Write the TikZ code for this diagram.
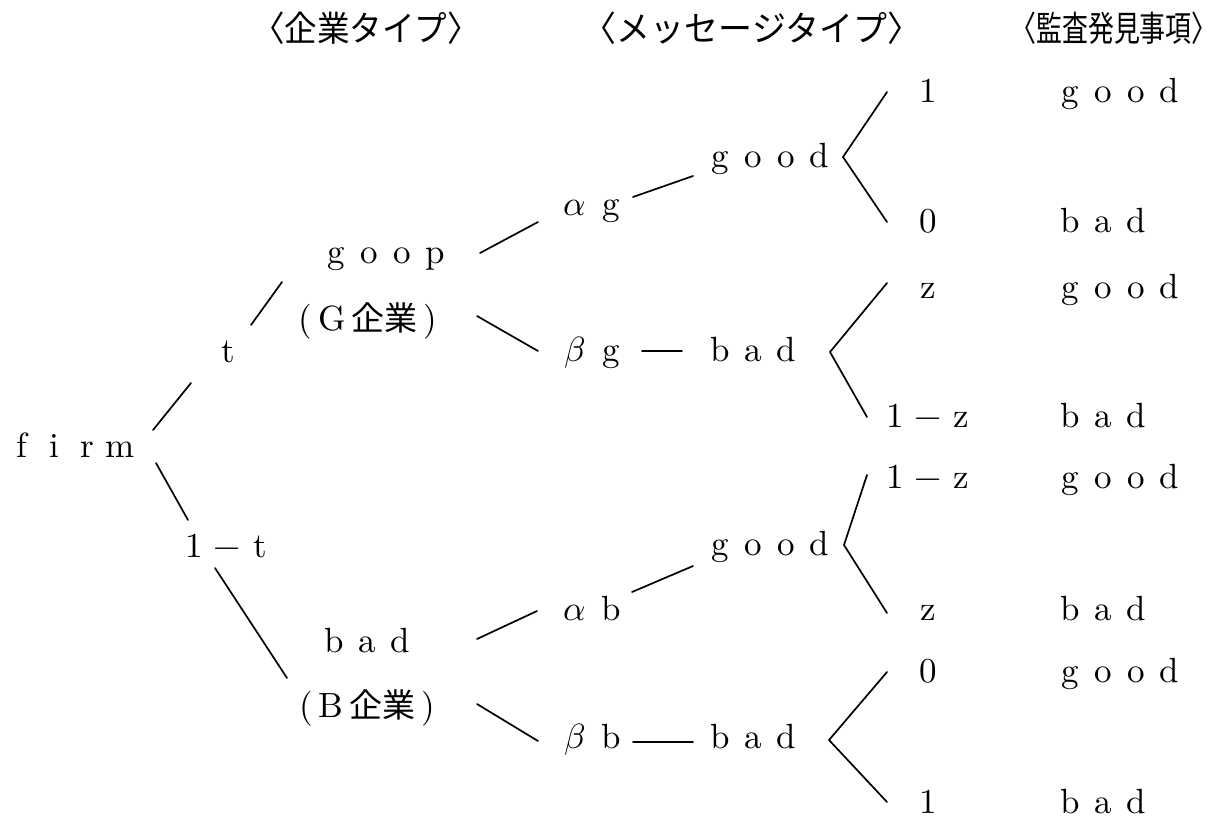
\documentclass[tikz,border=0pt]{standalone}
\usepackage{fontspec}
\usepackage{unicode-math}
\setmathfont{Latin Modern Math}
\setmainfont{lmroman10-regular.otf}
\newfontfamily\cjk{Noto Sans CJK JP}
\newcommand\lt[1]{\makebox[33pt]{#1}}
\newcommand\ltw[1]{\makebox[36pt]{#1}}
\begin{document}
\begin{tikzpicture}[x=1pt,y=-1pt,
  every node/.style={inner sep=0pt, font=\fontsize{35}{40}\selectfont},
  lbl/.style={anchor=base},
  outc/.style={anchor=base west},
  hdr/.style={anchor=center, font=\fontsize{35}{40}\selectfont\cjk},
  ln/.style={line width=1.7pt, line cap=round}]
\useasboundingbox (0,0) rectangle (1222,820);

% headers
\node[hdr] (h1) at (366,28) {\scalebox{0.93}[1]{〈企業タイプ〉}};
\node[hdr] (h2) at (752,28) {\scalebox{0.97}[1]{〈メッセージタイプ〉}};
\node[hdr] (h3) at (1114,28) {\scalebox{0.74}[1]{〈監査発見事項〉}};

% tree nodes
\node[lbl] (firm) at (71,457) {\lt{f}\lt{i}\lt{r}\lt{m}};
\node[lbl] (t) at (228,362) {t};
\node[lbl] (onemt) at (227,557) {\lt{1}\lt{$-$}\lt{t}};
\node[lbl] (goop) at (386,263) {\lt{g}\lt{o}\lt{o}\lt{p}};
\node[lbl] (gfirm) at (368,330) {(\,G\,{\cjk\fontsize{33}{40}\selectfont 企業}\,)};
\node[lbl] (badB) at (367,652) {\lt{b}\lt{a}\lt{d}};
\node[lbl] (bfirm) at (367,717) {(\,B\,{\cjk\fontsize{33}{40}\selectfont 企業}\,)};

\node[lbl] (ag) at (593,215) {\ltw{$\alpha$}\ltw{g}};
\node[lbl] (bg) at (593,361) {\ltw{$\beta$}\ltw{g}};
\node[lbl] (ab) at (593,620) {\ltw{$\alpha$}\ltw{b}};
\node[lbl] (bb) at (593,748) {\ltw{$\beta$}\ltw{b}};

\node[lbl] (good1) at (770,167) {\lt{g}\lt{o}\lt{o}\lt{d}};
\node[lbl] (bad1) at (753,361) {\lt{b}\lt{a}\lt{d}};
\node[lbl] (good2) at (770,555) {\lt{g}\lt{o}\lt{o}\lt{d}};
\node[lbl] (bad2) at (753,748) {\lt{b}\lt{a}\lt{d}};

% probabilities
\node[lbl] (p1) at (928,102) {1};
\node[lbl] (p2) at (928,232) {0};
\node[lbl] (p3) at (928,298) {z};
\node[lbl] (p4) at (928,427) {\lt{1}\lt{$-$}\lt{z}};
\node[lbl] (p5) at (928,488) {\lt{1}\lt{$-$}\lt{z}};
\node[lbl] (p6) at (928,620) {z};
\node[lbl] (p7) at (928,682) {0};
\node[lbl] (p8) at (928,813) {1};

% audit findings
\node[outc] (o1) at (1054,102) {\lt{g}\lt{o}\lt{o}\lt{d}};
\node[outc] (o2) at (1054,232) {\lt{b}\lt{a}\lt{d}};
\node[outc] (o3) at (1054,298) {\lt{g}\lt{o}\lt{o}\lt{d}};
\node[outc] (o4) at (1054,427) {\lt{b}\lt{a}\lt{d}};
\node[outc] (o5) at (1054,488) {\lt{g}\lt{o}\lt{o}\lt{d}};
\node[outc] (o6) at (1054,620) {\lt{b}\lt{a}\lt{d}};
\node[outc] (o7) at (1054,682) {\lt{g}\lt{o}\lt{o}\lt{d}};
\node[outc] (o8) at (1054,813) {\lt{b}\lt{a}\lt{d}};

% fork apexes
\coordinate (f1) at ([shift={(73,-10)}]good1.base);
\coordinate (f2) at ([shift={(77,-9)}]bad1.base);
\coordinate (f3) at ([shift={(74,-10)}]good2.base);
\coordinate (f4) at ([shift={(76,-8)}]bad2.base);

% connectors
\draw[ln] ([shift={(82,-27)}]firm.base) -- ([shift={(-37,21)}]t.base);
\draw[ln] ([shift={(23,-37)}]t.base) -- ([shift={(-104,19)}]goop.base);
\draw[ln] ([shift={(94,-10)}]goop.base) -- ([shift={(-55,7)}]ag.base);
\draw[ln] ([shift={(109,-14)}]gfirm.base) -- ([shift={(-55,-10)}]bg.base);
\draw[ln] ([shift={(40,-18)}]ag.base) -- ([shift={(-77,9)}]good1.base);
\draw[ln] ([shift={(49,-10)}]bg.base) -- ([shift={(-71,-10)}]bad1.base);
\draw[ln] ([shift={(-41,-10)}]p1.base) -- (f1) -- ([shift={(-41,-10)}]p2.base);
\draw[ln] ([shift={(-41,-15)}]p3.base) -- (f2) -- ([shift={(-61,-10)}]p4.base);

\draw[ln] ([shift={(85,6)}]firm.base) -- ([shift={(-39,-37)}]onemt.base);
\draw[ln] ([shift={(-12,11)}]onemt.base) -- ([shift={(-80,-39)}]bfirm.base);
\draw[ln] ([shift={(110,-13)}]badB.base) -- ([shift={(-56,-9)}]ab.base);
\draw[ln] ([shift={(110,-13)}]bfirm.base) -- ([shift={(-55,-7)}]bb.base);
\draw[ln] ([shift={(39,-28)}]ab.base) -- ([shift={(-77,11)}]good2.base);
\draw[ln] ([shift={(40,-6)}]bb.base) -- ([shift={(-60,-6)}]bad2.base);
\draw[ln] ([shift={(-61,-13)}]p5.base) -- (f3) -- ([shift={(-41,-7)}]p6.base);
\draw[ln] ([shift={(-41,-10)}]p7.base) -- (f4) -- ([shift={(-41,-11)}]p8.base);
\end{tikzpicture}
\end{document}
